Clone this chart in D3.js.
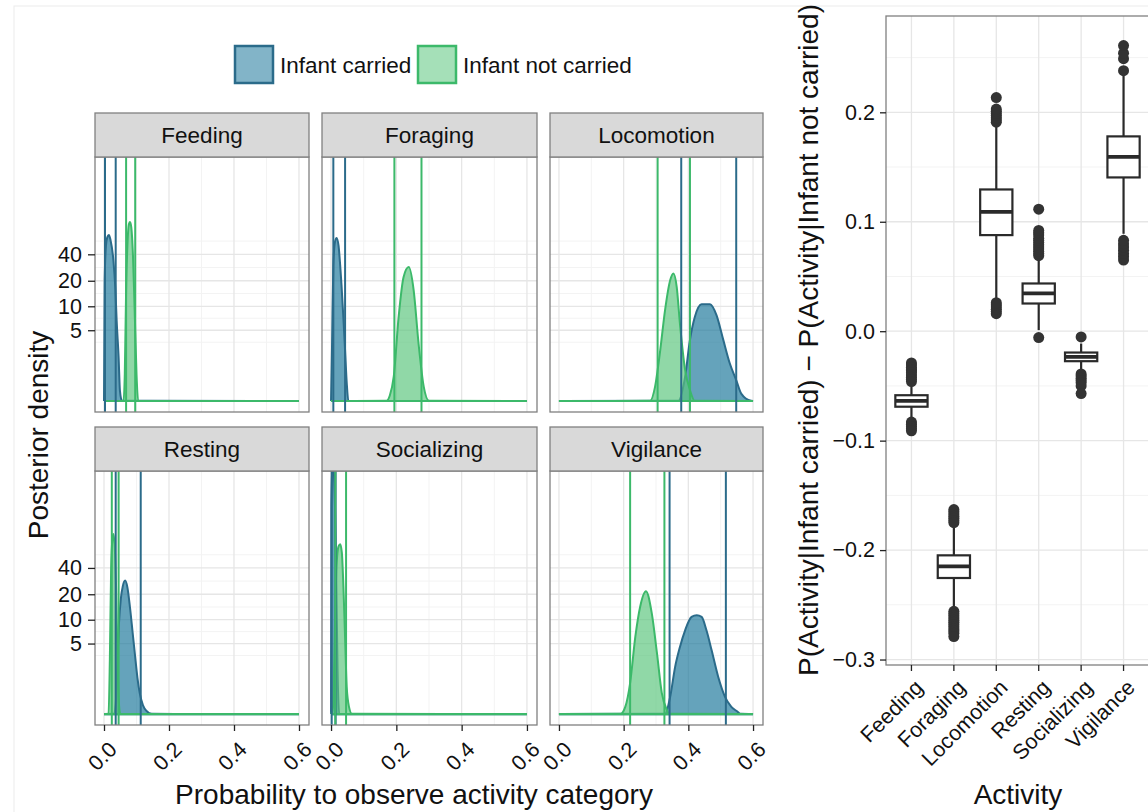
<!DOCTYPE html>
<html><head><meta charset="utf-8">
<script src="https://cdn.jsdelivr.net/npm/d3@7"></script>
<style>body{margin:0;background:#fff} text{font-family:"Liberation Sans",Arial,sans-serif;fill:#111}</style>
</head><body><svg id="c" width="1148" height="812"></svg>
<script>
// ---------- data ----------
const activities = ["Feeding","Foraging","Locomotion","Resting","Socializing","Vigilance"];
const groups = ["Infant carried","Infant not carried"];
const densityTicks = [5,10,20,40];
const probTicks = [0.0,0.2,0.4,0.6];
const diffTicks = [-0.3,-0.2,-0.1,0.0,0.1,0.2];

// posterior density curves, [probability, density]
const feedingCarried = [[0,0],[0.002,20],[0.006,50],[0.01,62],[0.015,66],[0.02,58],[0.029,34],[0.035,16],[0.039,6.6],[0.045,2],[0.049,0.3],[0.055,0.005],[0.6,0]];
const feedingNotCarried = [[0,0],[0.06,0.005],[0.064,1],[0.068,15],[0.072,50],[0.077,88],[0.08,92],[0.084,80],[0.089,40],[0.094,10],[0.1,1],[0.105,0.005],[0.6,0]];
const foragingCarried = [[0,0],[0.003,3],[0.007,30],[0.012,55],[0.017,61],[0.023,50],[0.028,30],[0.032,18],[0.038,7],[0.043,2.6],[0.048,0.6],[0.053,0.005],[0.6,0]];
const foragingNotCarried = [[0,0],[0.17,0.005],[0.18,0.15],[0.192,0.85],[0.207,7.4],[0.222,22],[0.238,28.7],[0.253,15.6],[0.268,3.3],[0.284,0.43],[0.3,0.005],[0.6,0]];
const locomotionCarried = [[0,0],[0.369,0.005],[0.39,0.85],[0.405,3.7],[0.42,7.4],[0.441,10.6],[0.467,10.6],[0.487,7.8],[0.508,3.7],[0.528,1.6],[0.548,0.7],[0.564,0.2],[0.594,0.005],[0.6,0]];
const locomotionNotCarried = [[0,0],[0.282,0.005],[0.297,0.43],[0.313,2.6],[0.328,9],[0.344,20.4],[0.354,24.3],[0.364,17],[0.374,6.1],[0.39,1.2],[0.405,0.32],[0.42,0.005],[0.6,0]];
const restingCarried = [[0,0],[0.03,0.005],[0.036,0.3],[0.041,2.5],[0.046,9],[0.052,18],[0.058,25],[0.065,28.7],[0.072,24],[0.08,14],[0.088,7],[0.095,3.6],[0.103,1.5],[0.11,0.7],[0.12,0.25],[0.131,0.08],[0.147,0.005],[0.6,0]];
const restingNotCarried = [[0,0],[0.014,0.005],[0.018,3],[0.022,40],[0.026,85],[0.029,96],[0.033,70],[0.037,25],[0.041,4],[0.046,0.3],[0.05,0.005],[0.6,0]];
const socializingCarried = [[0,0],[0.001,200],[0.004,600],[0.008,500],[0.012,200],[0.016,30],[0.02,2],[0.025,0.005],[0.6,0]];
const socializingNotCarried = [[0,0],[0.006,0.2],[0.01,3],[0.014,20],[0.018,50],[0.023,70],[0.028,74],[0.033,60],[0.038,24],[0.043,6],[0.048,1],[0.055,0.2],[0.064,0.005],[0.6,0]];
const vigilanceCarried = [[0,0],[0.328,0.005],[0.344,0.56],[0.359,2.3],[0.374,4.5],[0.39,7.4],[0.41,10.8],[0.426,11.3],[0.441,10.8],[0.456,7.4],[0.472,4.05],[0.492,1.6],[0.513,0.56],[0.533,0.2],[0.554,0.05],[0.56,0.005],[0.6,0]];
const vigilanceNotCarried = [[0,0],[0.19,0.005],[0.205,0.2],[0.22,1.2],[0.236,6.1],[0.251,14.3],[0.269,21.7],[0.287,11.9],[0.303,3.7],[0.318,0.7],[0.334,0.1],[0.34,0.005],[0.6,0]];

const densityCarried = [feedingCarried, foragingCarried, locomotionCarried, restingCarried, socializingCarried, vigilanceCarried];
const densityNotCarried = [feedingNotCarried, foragingNotCarried, locomotionNotCarried, restingNotCarried, socializingNotCarried, vigilanceNotCarried];

// 95% credible interval bounds
const ciCarried = [[0.003,0.036],[0.007,0.043],[0.378,0.548],[0.036,0.113],[0.002,0.014],[0.342,0.516]];
const ciNotCarried = [[0.068,0.096],[0.194,0.277],[0.305,0.405],[0.024,0.045],[0.013,0.046],[0.22,0.326]];

// boxplot of differences
const boxQ1 = [-0.069,-0.2255,0.0878,0.0253,-0.0274,0.1405];
const boxMedian = [-0.0637,-0.2148,0.109,0.0345,-0.0235,0.1593];
const boxQ3 = [-0.0585,-0.2048,0.1295,0.0436,-0.0195,0.178];
const whiskerLow = [-0.081,-0.2545,0.027,0.001,-0.037,0.089];
const whiskerHigh = [-0.048,-0.1755,0.19,0.068,-0.0113,0.234];
const outliers = [
  [-0.029,-0.031,-0.033,-0.035,-0.036,-0.038,-0.040,-0.042,-0.044,-0.046,-0.083,-0.085,-0.087,-0.089,-0.091],
  [-0.163,-0.165,-0.167,-0.169,-0.171,-0.173,-0.175,-0.256,-0.258,-0.260,-0.262,-0.264,-0.266,-0.268,-0.270,-0.272,-0.274,-0.276,-0.279],
  [0.191,0.193,0.195,0.197,0.199,0.201,0.203,0.2135,0.016,0.018,0.020,0.022,0.024,0.026],
  [0.069,0.071,0.073,0.075,0.077,0.079,0.081,0.083,0.085,0.088,0.090,0.092,0.1115,-0.0058],
  [-0.0052,-0.039,-0.041,-0.043,-0.045,-0.047,-0.050,-0.057],
  [0.238,0.249,0.254,0.261,0.065,0.068,0.071,0.074,0.077,0.080,0.083]
];

// ---------- styles ----------
const carriedLine = "#2b6b8a", carriedFill = "#1c779b";
const notLine = "#3cb96a", notFill = "#5bc67e";
const fillOp = 0.68;
const gridMajor = "#e6e6e6", gridMinor = "#f3f3f3", borderCol = "#808080";
const tickFont = 21.5, stripFont = 22.5, titleFont = 28;

const svg = d3.select("#c");
svg.append("rect").attr("x",14).attr("y",6).attr("width",1150).attr("height",820).attr("fill","none").attr("stroke","#ececec");

// ---------- legend ----------
const leg = svg.append("g");
[[235,groups[0],carriedFill,carriedLine,280],[418,groups[1],notFill,notLine,463]].forEach(([x,lab,f,s,tx])=>{
  leg.append("rect").attr("x",x).attr("y",46).attr("width",38).attr("height",37).attr("fill","#fff");
  leg.append("rect").attr("x",x).attr("y",46).attr("width",38).attr("height",37).attr("fill",f).attr("fill-opacity",0.55).attr("stroke",s).attr("stroke-width",2.5);
  leg.append("text").attr("x",tx).attr("y",65).attr("dy","0.35em").attr("font-size",22.5).text(lab);
});

// ---------- facets ----------
const colRanges = [[95,309],[322,537],[550,763]];
const rowLayout = [{stripTop:113, top:157, bottom:412},{stripTop:427, top:471, bottom:725}];
const l1p = d => Math.log1p(d);

activities.forEach((act,i)=>{
  const col = i%3, row = Math.floor(i/3);
  const [x0,x1] = colRanges[col];
  const L = rowLayout[row];
  const xs = d3.scaleLinear().domain([-0.0277,0.6308]).range([x0,x1]);
  const ys = d3.scaleLinear().domain([-0.278,6.177]).range([L.bottom,L.top]);
  const g = svg.append("g");
  g.append("rect").attr("x",x0).attr("y",L.top).attr("width",x1-x0).attr("height",L.bottom-L.top).attr("fill","#fff");
  const yMaj = densityTicks.map(l1p);
  const yMin = [];
  for (let k=0;k<yMaj.length-1;k++) yMin.push((yMaj[k]+yMaj[k+1])/2);
  yMin.push(yMaj[yMaj.length-1] + (yMaj[yMaj.length-1]-yMaj[yMaj.length-2])/2);
  yMin.push(yMaj[0] - (yMaj[1]-yMaj[0])/2);
  yMin.forEach(v=>g.append("line").attr("x1",x0).attr("x2",x1).attr("y1",ys(v)).attr("y2",ys(v)).attr("stroke",gridMinor).attr("stroke-width",1));
  [0.1,0.3,0.5].forEach(v=>g.append("line").attr("x1",xs(v)).attr("x2",xs(v)).attr("y1",L.top).attr("y2",L.bottom).attr("stroke",gridMinor).attr("stroke-width",1));
  yMaj.forEach(v=>g.append("line").attr("x1",x0).attr("x2",x1).attr("y1",ys(v)).attr("y2",ys(v)).attr("stroke",gridMajor).attr("stroke-width",1.3));
  probTicks.forEach(v=>g.append("line").attr("x1",xs(v)).attr("x2",xs(v)).attr("y1",L.top).attr("y2",L.bottom).attr("stroke",gridMajor).attr("stroke-width",1.3));

  const clipId = "clip"+i;
  svg.append("clipPath").attr("id",clipId).append("rect").attr("x",x0).attr("y",L.top).attr("width",x1-x0).attr("height",L.bottom-L.top);
  const pg = g.append("g").attr("clip-path",`url(#${clipId})`);
  const area = d3.area().x(d=>xs(d[0])).y0(ys(0)).y1(d=>ys(l1p(d[1]))).curve(d3.curveMonotoneX);
  const line = d3.line().x(d=>xs(d[0])).y(d=>ys(l1p(d[1]))).curve(d3.curveMonotoneX);
  [[densityCarried[i],carriedFill,carriedLine],[densityNotCarried[i],notFill,notLine]].forEach(([data,f,s])=>{
    pg.append("path").attr("d",area(data)).attr("fill",f).attr("fill-opacity",fillOp);
    pg.append("path").attr("d",line(data)).attr("fill","none").attr("stroke",s).attr("stroke-width",2);
    pg.append("line").attr("x1",xs(data[0][0])).attr("x2",xs(data[data.length-1][0])).attr("y1",ys(0)).attr("y2",ys(0)).attr("stroke",s).attr("stroke-width",2.2);
  });
  [[ciCarried[i],carriedLine],[ciNotCarried[i],notLine]].forEach(([ci,s])=>{
    ci.forEach(v=>pg.append("line").attr("x1",xs(v)).attr("x2",xs(v)).attr("y1",L.top).attr("y2",L.bottom).attr("stroke",s).attr("stroke-width",2));
  });
  g.append("rect").attr("x",x0).attr("y",L.top).attr("width",x1-x0).attr("height",L.bottom-L.top).attr("fill","none").attr("stroke",borderCol).attr("stroke-width",1.3);
  g.append("rect").attr("x",x0).attr("y",L.stripTop).attr("width",x1-x0).attr("height",L.top-L.stripTop).attr("fill","#d9d9d9").attr("stroke",borderCol).attr("stroke-width",1.3);
  g.append("text").attr("x",(x0+x1)/2).attr("y",(L.stripTop+L.top)/2).attr("dy","0.35em").attr("text-anchor","middle").attr("font-size",stripFont).text(act);
  if (col===0) {
    const ax = d3.axisLeft(ys).tickValues(yMaj).tickFormat((d,k)=>densityTicks[k]).tickSize(7).tickPadding(6);
    const ag = g.append("g").attr("transform",`translate(${x0},0)`).call(ax);
    ag.select(".domain").remove();
    ag.selectAll(".tick line").attr("stroke","#222").attr("stroke-width",1.3);
    ag.selectAll("text").attr("font-size",tickFont).attr("fill","#111").style("font-family","Liberation Sans, Arial, sans-serif");
  }
  if (row===1) {
    const ax = d3.axisBottom(xs).tickValues(probTicks).tickFormat(d3.format(".1f")).tickSize(6);
    const ag = g.append("g").attr("transform",`translate(0,${L.bottom})`).call(ax);
    ag.select(".domain").remove();
    ag.selectAll(".tick line").attr("stroke","#222").attr("stroke-width",1.3);
    ag.selectAll("text").attr("font-size",tickFont).attr("fill","#111").style("font-family","Liberation Sans, Arial, sans-serif")
      .attr("text-anchor","end").attr("dy",null).attr("y",null)
      .attr("transform","translate(3,15) rotate(-45)").attr("dominant-baseline","hanging");
  }
});

svg.append("text").attr("transform","translate(48,435) rotate(-90)").attr("text-anchor","middle").attr("font-size",titleFont).text("Posterior density");
svg.append("text").attr("x",414).attr("y",804).attr("text-anchor","middle").attr("font-size",titleFont).text("Probability to observe activity category");

// ---------- boxplot panel ----------
const bx0 = 886, bx1 = 1149, by0 = 16, by1 = 665;
const bxs = d3.scaleBand().domain(activities).range([bx0,bx1]).paddingOuter(0.1).paddingInner(0);
const bys = d3.scaleLinear().domain([-0.305,0.288]).range([by1,by0]);
const bg = svg.append("g");
bg.append("rect").attr("x",bx0).attr("y",by0).attr("width",bx1-bx0).attr("height",by1-by0).attr("fill","#fff");
[-0.25,-0.15,-0.05,0.05,0.15,0.25].forEach(v=>bg.append("line").attr("x1",bx0).attr("x2",bx1).attr("y1",bys(v)).attr("y2",bys(v)).attr("stroke",gridMinor));
diffTicks.forEach(v=>bg.append("line").attr("x1",bx0).attr("x2",bx1).attr("y1",bys(v)).attr("y2",bys(v)).attr("stroke",gridMajor).attr("stroke-width",1.3));
activities.forEach(a=>{const cx=bxs(a)+bxs.bandwidth()/2; bg.append("line").attr("x1",cx).attr("x2",cx).attr("y1",by0).attr("y2",by1).attr("stroke",gridMajor).attr("stroke-width",1.3);});
const bw = bxs.bandwidth()*0.76;
activities.forEach((a,i)=>{
  const cx = bxs(a)+bxs.bandwidth()/2;
  const s = "#2a2a2a";
  bg.append("line").attr("x1",cx).attr("x2",cx).attr("y1",bys(whiskerHigh[i])).attr("y2",bys(boxQ3[i])).attr("stroke",s).attr("stroke-width",2.2);
  bg.append("line").attr("x1",cx).attr("x2",cx).attr("y1",bys(boxQ1[i])).attr("y2",bys(whiskerLow[i])).attr("stroke",s).attr("stroke-width",2.2);
  bg.append("rect").attr("x",cx-bw/2).attr("y",bys(boxQ3[i])).attr("width",bw).attr("height",bys(boxQ1[i])-bys(boxQ3[i])).attr("fill","#fff").attr("stroke",s).attr("stroke-width",2.2);
  bg.append("line").attr("x1",cx-bw/2).attr("x2",cx+bw/2).attr("y1",bys(boxMedian[i])).attr("y2",bys(boxMedian[i])).attr("stroke",s).attr("stroke-width",3.8);
  outliers[i].forEach(v=>bg.append("circle").attr("cx",cx).attr("cy",bys(v)).attr("r",5.5).attr("fill","#333"));
});
bg.append("rect").attr("x",bx0).attr("y",by0).attr("width",bx1-bx0).attr("height",by1-by0).attr("fill","none").attr("stroke",borderCol).attr("stroke-width",1.3);
const bya = bg.append("g").attr("transform",`translate(${bx0},0)`).call(d3.axisLeft(bys).tickValues(diffTicks).tickFormat(d=>d3.format(".1f")(d).replace("-","\u2212")).tickSize(6).tickPadding(5));
bya.select(".domain").remove();
bya.selectAll(".tick line").attr("stroke","#222").attr("stroke-width",1.3);
bya.selectAll("text").attr("font-size",tickFont).attr("fill","#111").style("font-family","Liberation Sans, Arial, sans-serif");
const bxa = bg.append("g").attr("transform",`translate(0,${by1})`).call(d3.axisBottom(bxs).tickSize(6));
bxa.select(".domain").remove();
bxa.selectAll(".tick line").attr("stroke","#222").attr("stroke-width",1.3);
bxa.selectAll("text").attr("font-size",tickFont).attr("fill","#111").style("font-family","Liberation Sans, Arial, sans-serif")
  .attr("text-anchor","end").attr("dy",null).attr("y",null)
  .attr("transform","translate(2,13) rotate(-45)").attr("dominant-baseline","hanging");
svg.append("text").attr("transform","translate(818,340) rotate(-90)").attr("text-anchor","middle").attr("font-size",titleFont).text("P(Activity|Infant carried) \u2212 P(Activity|Infant not carried)");
svg.append("text").attr("x",1018).attr("y",804).attr("text-anchor","middle").attr("font-size",titleFont).text("Activity");
</script></body></html>
